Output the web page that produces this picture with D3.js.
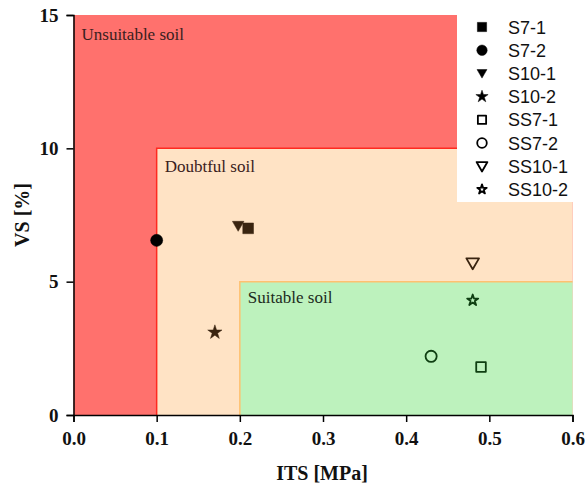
<!DOCTYPE html>
<html><head><meta charset="utf-8">
<script src="https://cdn.jsdelivr.net/npm/d3@7"></script>
<style>body{margin:0;background:#fff}</style>
</head><body>
<svg id="c" width="585" height="488"></svg>
<script>
const seriesNames = ["S7-1","S7-2","S10-1","S10-2","SS7-1","SS7-2","SS10-1","SS10-2"];
const itsValues = [0.21, 0.10, 0.198, 0.17, 0.49, 0.43, 0.48, 0.48];
const vsValues  = [7.0, 6.55, 7.1, 3.1, 1.8, 2.2, 5.7, 4.3];
const symbolKinds = ["square","circle","triangleDown","star","square","circle","triangleDown","star"];
const filledFlags = [true,true,true,true,false,false,false,false];
const markerColors = ["#3a2410","#000000","#3a2410","#3a2410","#0f3f12","#0f3f12","#3a2410","#0f3f12"];
const xTicks = [0.0,0.1,0.2,0.3,0.4,0.5,0.6];
const yTicks = [0,5,10,15];
const zoneNames = ["Unsuitable soil","Doubtful soil","Suitable soil"];
const zoneX0 = [0.0, 0.1, 0.2];
const zoneY1 = [15, 10, 5];
const zoneFill = ["#ff716d","#ffe3c5","#bdf2bd"];
const zoneStroke = ["#ff5a55","#ff2a20","#ffc070"];

const svg = d3.select("#c");
const x = d3.scaleLinear().domain([0,0.6]).range([73.5,572.5]);
const y = d3.scaleLinear().domain([0,15]).range([415,15]);
const fontSerif = "Liberation Serif, Times New Roman, serif";

// zones
zoneNames.forEach((n,i)=>{
  svg.append("rect").attr("x",x(zoneX0[i])).attr("y",y(zoneY1[i]))
    .attr("width",x(0.6)-x(zoneX0[i])).attr("height",y(0)-y(zoneY1[i]))
    .attr("fill",zoneFill[i]);
  if(i>0){
    svg.append("path")
      .attr("d",`M${x(zoneX0[i])},${y(0)}V${y(zoneY1[i])}H${x(0.6)}`)
      .attr("fill","none").attr("stroke",zoneStroke[i]).attr("stroke-width",1.5);
  }
  const ty = [40,172,303][i];
  svg.append("text").attr("x",x(zoneX0[i])+8).attr("y",ty)
    .attr("font-family",fontSerif).attr("font-size",17)
    .attr("fill", i===2 ? "#1c2a1c" : "#3a2020").text(n);
});

// legend box
const lg = svg.append("g");
lg.append("rect").attr("x",457).attr("y",15).attr("width",116).attr("height",187).attr("fill","#fff");

const symMap = {square:d3.symbolSquare,circle:d3.symbolCircle,star:d3.symbolStar,triangleDown:d3.symbolTriangle};
const sizeFactor = {square:1.0, circle:1.0, star:0.55, triangleDown:0.5};
function drawMarker(g, cx, cy, i, color, size){
  const k = symbolKinds[i];
  let s = size*sizeFactor[k];
  if(!filledFlags[i] && k==="square") s *= 0.8;
  if(!filledFlags[i] && k==="circle") s *= 0.85;
  if(!filledFlags[i] && k==="triangleDown") s *= 1.2;
  if(!filledFlags[i] && k==="star") s *= 0.6;
  const rot = k==="triangleDown" ? 180 : 0;
  const dy = k==="triangleDown" ? -1 : 0;
  g.append("path").attr("d",d3.symbol().type(symMap[k]).size(s)())
    .attr("transform",`translate(${cx},${cy+dy}) rotate(${rot})`)
    .attr("fill", filledFlags[i] ? color : "none")
    .attr("stroke", color).attr("stroke-width", filledFlags[i] ? 0.5 : 1.8)
    .attr("stroke-linejoin","round");
}

// points
seriesNames.forEach((n,i)=>{
  drawMarker(svg, x(itsValues[i]), y(vsValues[i]), i, markerColors[i], 115);
});

seriesNames.forEach((n,i)=>{
  const ly = 27 + i*23.2;
  drawMarker(lg, 482, ly, i, "#000", 85);
  lg.append("text").attr("x",508).attr("y",ly+6.5)
    .attr("font-family","Liberation Sans, Arial, sans-serif").attr("font-size",18)
    .attr("fill","#111").text(n);
});

// axes
const xa = svg.append("g").attr("transform",`translate(0,${y(0)})`)
  .call(d3.axisBottom(x).tickValues(xTicks).tickFormat(d3.format(".1f")).tickSizeOuter(0).tickSize(7).tickPadding(10));
const ya = svg.append("g").attr("transform",`translate(${x(0)},0)`)
  .call(d3.axisLeft(y).tickValues(yTicks).tickFormat(d3.format("d")).tickSizeOuter(0).tickSize(7).tickPadding(8));
[xa,ya].forEach(a=>{
  a.select(".domain").attr("stroke","#000").attr("stroke-width",1.5);
  a.selectAll(".tick line").attr("stroke","#000").attr("stroke-width",1.5);
  a.selectAll("text").attr("font-family",fontSerif).attr("font-size",19).attr("font-weight","bold").attr("fill","#111");
});

svg.append("text").attr("x",322).attr("y",480).attr("text-anchor","middle")
  .attr("font-family",fontSerif).attr("font-size",20).attr("font-weight","bold").attr("fill","#111").text("ITS [MPa]");
svg.append("text").attr("transform","translate(29,215) rotate(-90)").attr("text-anchor","middle")
  .attr("font-family",fontSerif).attr("font-size",20).attr("font-weight","bold").attr("fill","#111").text("VS [%]");
</script>
</body></html>
